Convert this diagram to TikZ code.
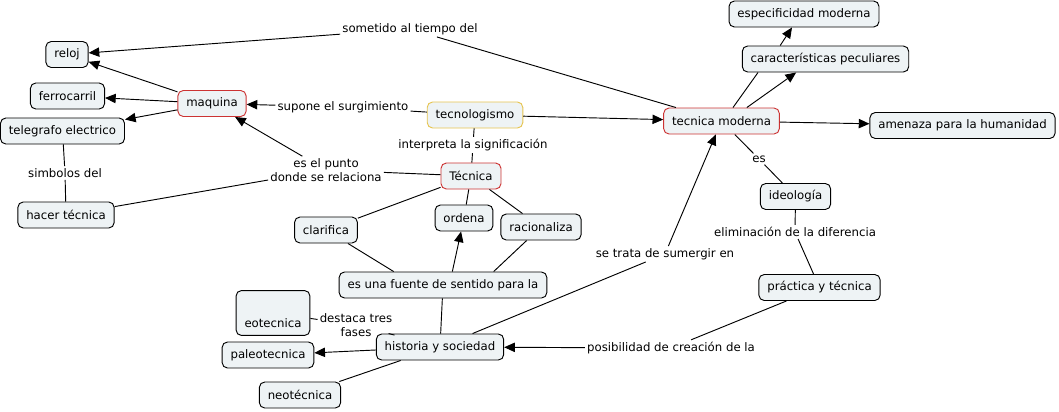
\documentclass[tikz,border=0pt]{standalone}
\usepackage{fontspec}
\setmainfont{DejaVu Sans}
\usepackage{xcolor}
\usepackage{tikz}
\usetikzlibrary{arrows.meta}
\definecolor{cfill}{RGB}{238,243,245}
\definecolor{cred}{RGB}{204,51,51}
\definecolor{cyel}{RGB}{230,196,80}

\begin{document}
\begin{tikzpicture}[
      x=0.75pt, y=-0.75pt,
      every node/.style={font=\fontsize{8.8}{10.5}\selectfont},
      box/.style={draw, rounded corners=4pt, fill=cfill, line width=0.7pt, inner xsep=6.3pt, minimum height=19.5pt},
      rbox/.style={box, draw=cred},
      ybox/.style={box, draw=cyel},
      lnk/.style={inner sep=1.5pt, align=center},
      con/.style={line width=0.7pt},
      arr/.style={con, -{Triangle[length=8pt, width=7pt]}}
    ]
    \useasboundingbox (0,0) rectangle (1059,411);

    % concepts
    \node[box]  (reloj)  at (67,54.5)  {reloj};
    \node[box]  (ferro)  at (67.5,96)  {ferrocarril};
    \node[rbox] (maq)    at (212,103.5) {maquina};
    \node[box]  (teleg)  at (62.5,131) {telegrafo electrico};
    \node[box]  (hacer)  at (66,215)   {hacer técnica};
    \node[ybox] (tecno)  at (475,115)  {tecnologismo};
    \node[rbox] (tec)    at (471,176)  {Técnica};
    \node[box]  (clar)   at (326,230)  {clarifica};
    \node[box]  (ord)    at (464,218)  {ordena};
    \node[box]  (rac)    at (541,227)  {racionaliza};
    \node[box]  (fuente) at (443,285)  {es una fuente de sentido para la};
    \node[box, minimum width=55pt, text height=24pt, text depth=3pt] (eot) at (273,313) {eotecnica};
    \node[box]  (hist)   at (440,347)  {historia y sociedad};
    \node[box]  (paleo)  at (268,355)  {paleotecnica};
    \node[box]  (neo)    at (300,395)  {neotécnica};
    \node[rbox] (tm)     at (721.5,121) {tecnica moderna};
    \node[box]  (espec)  at (804,14)   {especificidad moderna};
    \node[box]  (carac)  at (825.5,59) {características peculiares};
    \node[box]  (amen)   at (962.5,125.5) {amenaza para la humanidad};
    \node[box]  (ideo)   at (795.5,196.5) {ideología};
    \node[box]  (prac)   at (819.5,287.5) {práctica y técnica};

    % linking phrases
    \node[lnk] (somet)  at (410,29)   {sometido al tiempo del};
    \node[lnk] (supone) at (343,107)  {supone el surgimiento};
    \node[lnk] (punto)  at (326,170)  {es el punto\\donde se relaciona};
    \node[lnk] (simb)   at (65,173)   {simbolos del};
    \node[lnk] (interp) at (473,145)  {interpreta la significación};
    \node[lnk] (sumer)  at (665,254)  {se trata de sumergir en};
    \node[lnk] (es)     at (759,159)  {es};
    \node[lnk] (elim)   at (795,232)  {eliminación de la diferencia};
    \node[lnk] (posib)  at (671,348)  {posibilidad de creación de la};
    \node[lnk] (destaca) at (356,325) {destaca tres\\fases};

    % connectors
    \draw[con] (tm) -- (somet);
    \draw[arr] (somet) -- (reloj);
    \draw[arr] (maq) -- (reloj);
    \draw[arr] (maq) -- (ferro);
    \draw[arr] (maq) -- (teleg);
    \draw[con] (tecno) -- (supone);
    \draw[arr] (supone) -- (maq);
    \draw[arr] (tecno) -- (tm);
    \draw[con] (tecno) -- (interp);
    \draw[con] (interp) -- (tec);
    \draw[con] (tec) -- (punto);
    \draw[arr] (punto) -- (maq);
    \draw[con] (punto) -- (hacer);
    \draw[con] (teleg) -- (simb);
    \draw[con] (simb) -- (hacer);
    \draw[con] (tec) -- (clar);
    \draw[con] (tec) -- (ord);
    \draw[con] (tec) -- (rac);
    \draw[con] ([xshift=-37pt]fuente.north) -- (clar);
    \draw[arr] ([xshift=7pt]fuente.north) -- (ord);
    \draw[con] ([xshift=38pt]fuente.north) -- (rac);
    \draw[con] (fuente) -- (hist);
    \draw[con] (hist) -- (sumer);
    \draw[arr] (sumer) -- (tm);
    \draw[con] (eot) -- (destaca);
    \draw[con] (destaca) -- (hist);
    \draw[arr] (hist) -- (paleo);
    \draw[con] (hist) -- (neo);
    \draw[con] ([xshift=8.6pt]tm.north) -- ([xshift=-50.6pt]carac.south);
    \draw[arr] ([xshift=19pt]tm.north) -- ([xshift=-22pt]carac.south);
    \draw[arr] ([xshift=-34pt]carac.north) -- ([xshift=-9pt]espec.south);
    \draw[arr] (tm) -- (amen);
    \draw[con] (tm) -- (es);
    \draw[con] (es) -- (ideo);
    \draw[con] (ideo) -- (elim);
    \draw[con] (elim) -- (prac);
    \draw[con] (prac) -- (posib);
    \draw[arr] (posib) -- (hist);
  \end{tikzpicture}
\end{document}
